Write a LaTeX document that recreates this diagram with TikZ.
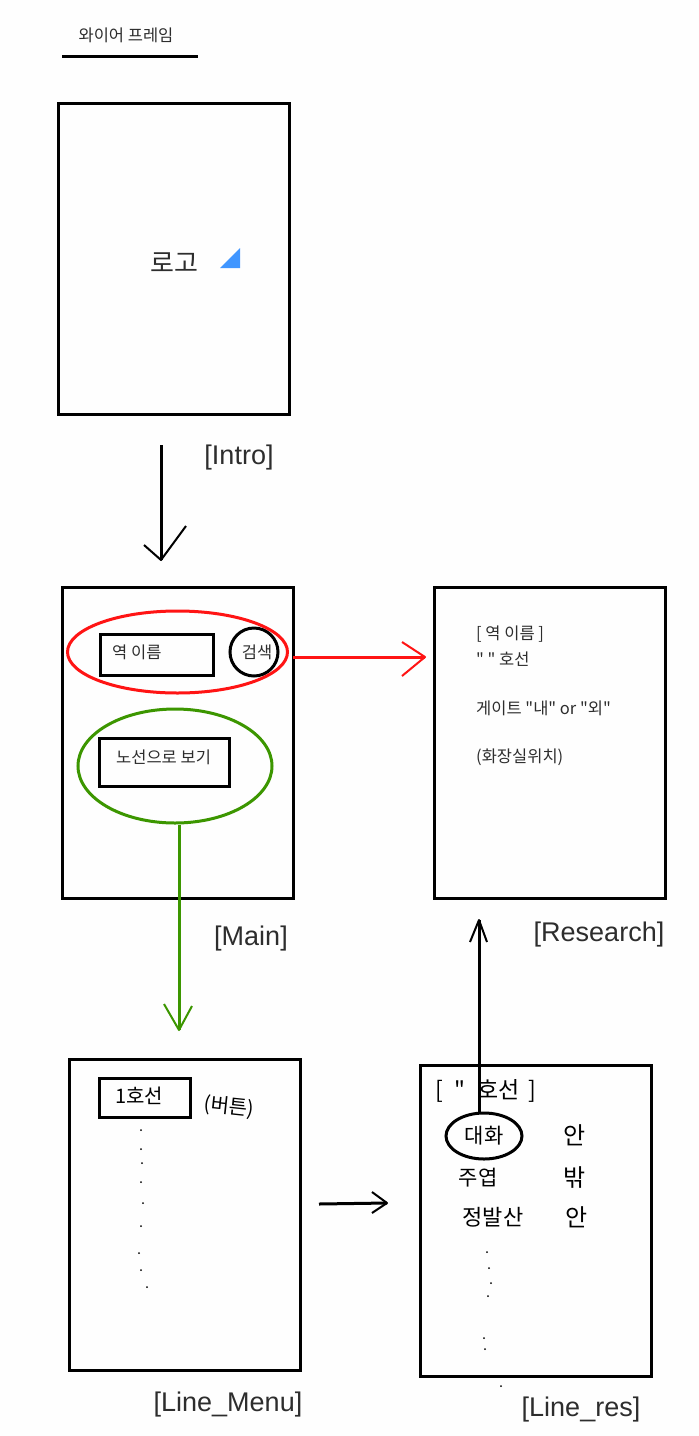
\documentclass[tikz,border=0pt]{standalone}
\usepackage{fontspec}
\setmainfont{Liberation Sans}
\newfontfamily\kor{Noto Sans CJK KR}
\usepackage{xcolor}
\usetikzlibrary{shapes.geometric}
\definecolor{redline}{RGB}{255,20,20}
\definecolor{greenline}{RGB}{60,150,0}
\definecolor{logoblue}{RGB}{64,150,255}
\definecolor{inkgray}{RGB}{45,45,45}
\tikzset{%
  screen/.style={draw,line width=3pt,minimum width=231pt,minimum height=311pt,inner sep=0pt},
  btnbox/.style={draw,line width=3pt,inner sep=0pt},
  oval/.style={ellipse,draw,line width=3pt,inner sep=0pt},
  caption/.style={font=\fontsize{27}{30}\selectfont,text=inkgray,inner sep=0pt},
  printed/.style={font=\kor\fontsize{16.5}{19}\selectfont,text=inkgray,inner sep=0pt},
  hand/.style={font=\kor\fontsize{21}{24}\selectfont,inner sep=0pt},
}
\begin{document}
\begin{tikzpicture}[x=1pt,y=-1pt]
\useasboundingbox[fill=white!99.6!black] (0,0) rectangle (699,1436);
% title
\node[printed] (title) at (126,35) {와이어 프레임};
\coordinate (ruleL) at (62,56);
\coordinate (ruleR) at (198,56);
\draw[line width=3pt] (ruleL)--(ruleR);
% screens
\node[screen] (intro) at (174,258.5) {};
\node[screen] (main) at (178,742.5) {};
\node[screen] (research) at (550,742.5) {};
\node[screen] (linemenu) at (185,1214.5) {};
\node[screen] (lineres) at (536,1220.5) {};
\node[caption] (introcap) at (239,458) {[Intro]};
\node[caption] (maincap) at (251,939) {[Main]};
\node[caption] (researchcap) at (599,935) {[Research]};
\node[caption] (linemenucap) at (228,1405) {[Line\_Menu]};
\node[caption] (linerescap) at (581,1410) {[Line\_res]};
% intro
\node[font=\kor\fontsize{26}{28}\selectfont,text=inkgray,inner sep=0pt] (logo) at (174,263) {로고};
\fill[logoblue] (220,268)--(240,268)--(240,248)--cycle;
% main
\node[btnbox,minimum width=113pt,minimum height=41pt] (namebox) at (157,654.5) {};
\node[printed,anchor=west] (nametext) at (112,652) {역 이름};
\node[btnbox,circle,minimum size=48pt] (search) at (254,652) {};
\node[printed] (searchtext) at (257,652) {검색};
\node[oval,redline,minimum width=220pt,minimum height=82pt] (nameoval) at (177.5,652) {};
\node[btnbox,minimum width=130pt,minimum height=48pt] (routebox) at (164.5,762) {};
\node[printed,anchor=west] (routetext) at (116,757) {노선으로 보기};
\node[oval,greenline,minimum width=194pt,minimum height=114pt] (routeoval) at (175,766) {};
% research
\node[printed,anchor=west] (res1) at (476,634) {[ 역 이름 ]};
\node[printed,anchor=west] (res2) at (476,659) {" " 호선};
\node[printed,anchor=west] (res3) at (476,708) {게이트 "내" or "외"};
\node[printed,anchor=west] (res4) at (476,757) {(화장실위치)};
% line menu
\node[btnbox,minimum width=91pt,minimum height=39pt] (line1box) at (145,1097.5) {};
\node[hand,font=\kor\fontsize{20}{22}\selectfont] (line1text) at (139,1096) {1호선};
\node[hand,font=\kor\fontsize{20}{22}\selectfont,rotate=-6] (btnnote) at (229,1107) {(버튼)};
\foreach \px/\py in {141/1130,141/1149,142/1163,141/1182,143/1203,141/1226,139/1253,141/1270,147/1287}
  \fill (\px,\py) circle (1pt);
% line result
\node[hand,font=\kor\fontsize{23}{26}\selectfont] (linehead) at (485.5,1091) {[\hspace{12pt}"\hspace{12pt}호선\hspace{8pt}]};
\node[hand] (st1) at (484,1136) {대화};
\node[oval,minimum width=76pt,minimum height=46pt] (st1oval) at (484,1136) {};
\node[hand] (st2) at (478,1178) {주엽};
\node[hand,font=\kor\fontsize{22}{24}\selectfont] (st3) at (493,1217) {정발산};
\node[hand,font=\kor\fontsize{24}{26}\selectfont] (gate1) at (575,1135) {안};
\node[hand,font=\kor\fontsize{24}{26}\selectfont] (gate2) at (575,1177) {밖};
\node[hand,font=\kor\fontsize{24}{26}\selectfont] (gate3) at (577,1217) {안};
\foreach \px/\py in {487/1252,489/1268,491/1283,488/1296,484/1338,485/1349,501/1386}
  \fill (\px,\py) circle (1pt);
% arrows
\coordinate (introout) at (161,445);
\coordinate (mainin) at (161,560);
\draw[line width=3pt] (introout)--(mainin);
\draw[line width=2pt,line join=round] ([shift={(-17,-15)}]mainin)--(mainin)--([shift={(25,-34)}]mainin);
\coordinate (redout) at (293,657);
\coordinate (redin) at (425,657);
\draw[redline,line width=3pt] (redout)--(redin);
\draw[redline,line width=2pt,line join=round] ([shift={(-23,-15)}]redin)--(redin)--([shift={(-23,19)}]redin);
\coordinate (greenin) at (179,1030);
\draw[greenline,line width=3pt] ([xshift=4pt]routeoval.south)--(greenin);
\draw[greenline,line width=2pt,line join=round] ([shift={(-15,-26)}]greenin)--(greenin)--([shift={(13,-24)}]greenin);
\coordinate (upin) at (479,920);
\draw[line width=3pt] ([xshift=-5pt]st1oval.north)--(upin);
\draw[line width=2pt,line join=round] ([shift={(-9,22)}]upin)--(upin)--([shift={(8,22)}]upin);
\coordinate (menuout) at (319,1204);
\coordinate (resin) at (387,1203);
\draw[line width=3pt] (menuout)--(resin);
\draw[line width=2pt,line join=round] ([shift={(-15,-11)}]resin)--(resin)--([shift={(-15,10)}]resin);
\end{tikzpicture}
\end{document}
